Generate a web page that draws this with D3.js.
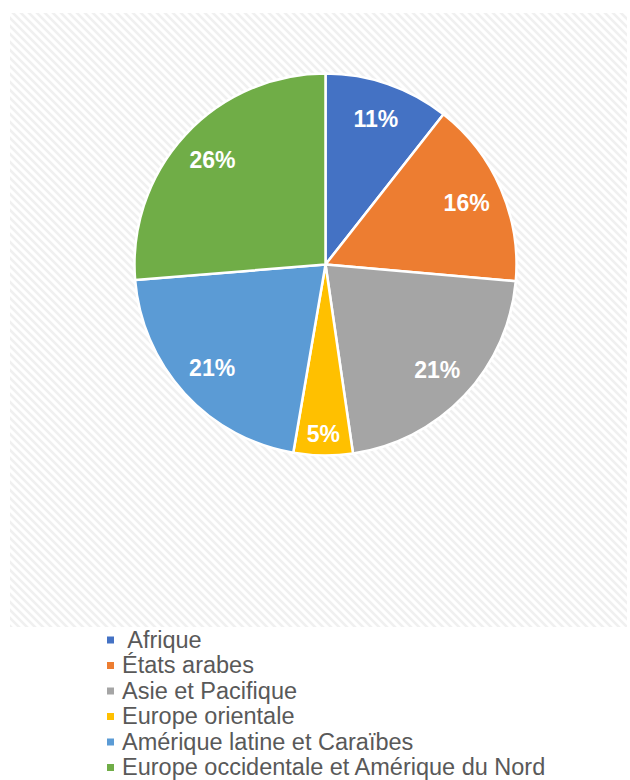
<!DOCTYPE html>
<html><head><meta charset="utf-8">
<script src="https://cdn.jsdelivr.net/npm/d3@7"></script>
<style>html,body{margin:0;padding:0;background:#fff;}</style>
</head><body>
<svg id="chart" width="630" height="780"></svg>
<script>
const categories = ["Afrique", "États arabes", "Asie et Pacifique", "Europe orientale", "Amérique latine et Caraïbes", "Europe occidentale et Amérique du Nord"];
const values = [10.6, 15.8, 21.3, 5.0, 21.0, 26.3];
const labels = ["11%", "16%", "21%", "5%", "21%", "26%"];
const colors = ["#4472C4", "#ED7D31", "#A5A5A5", "#FFC000", "#5B9BD5", "#70AD47"];

const svg = d3.select("#chart");
const defs = svg.append("defs");
const pat = defs.append("pattern").attr("id", "hatch").attr("patternUnits", "userSpaceOnUse")
  .attr("width", 8).attr("height", 8);
pat.append("rect").attr("width", 8).attr("height", 8).attr("fill", "#ffffff");
pat.append("path").attr("d", "M-2,-2 L10,10 M-2,6 L2,10 M6,-2 L10,2")
  .attr("stroke", "#f0f0f0").attr("stroke-width", 2.5);

svg.append("rect").attr("x", 10).attr("y", 13).attr("width", 617).attr("height", 614).attr("fill", "url(#hatch)");

const cx = 325.5, cy = 264.5, R = 191;
const g = svg.append("g").attr("transform", `translate(${cx},${cy})`);
const pie = d3.pie().sort(null).value(d => d.v);
const data = pie(values.map((v, i) => ({v, i})));
const arc = d3.arc().innerRadius(0).outerRadius(R);

g.selectAll("path.slice").data(data).enter().append("path")
  .attr("class", "slice")
  .attr("d", arc)
  .attr("fill", d => colors[d.data.i])
  .attr("stroke", "#ffffff").attr("stroke-width", 2.5).attr("stroke-linejoin", "round");

g.selectAll("text.lbl").data(data).enter().append("text")
  .attr("class", "lbl")
  .attr("transform", d => {
    const frac = d.data.v / 100;
    const r = frac < 0.08 ? R * 0.885 : R * 0.805;
    const a = (d.startAngle + d.endAngle) / 2;
    return `translate(${r * Math.sin(a)},${-r * Math.cos(a)})`;
  })
  .attr("text-anchor", "middle").attr("dy", "0.35em")
  .attr("font-family", "Arial, 'Liberation Sans', sans-serif")
  .attr("font-weight", "bold").attr("font-size", 23).attr("fill", "#ffffff")
  .text((d) => labels[d.data.i]);

const leg = svg.append("g");
const rowY = d3.scaleLinear().domain([0, 1]).range([640, 665.5]);
const items = leg.selectAll("g").data(categories).enter().append("g")
  .attr("transform", (d, i) => `translate(0,${rowY(i)})`);
items.append("rect").attr("x", 107).attr("y", -3.5).attr("width", 7).attr("height", 7)
  .attr("fill", (d, i) => colors[i]);
items.append("text").attr("x", 122).attr("y", 7.5)
  .attr("font-family", "Arial, 'Liberation Sans', sans-serif")
  .attr("font-size", 23.5).attr("fill", "#595959")
  .attr("xml:space", "preserve").style("white-space", "pre")
  .text((d, i) => i === 0 ? " " + d : d);
</script>
</body></html>
